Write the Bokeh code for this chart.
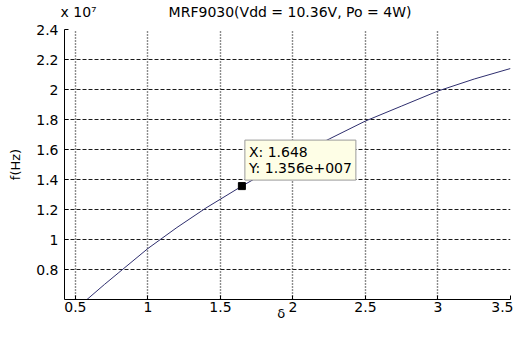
from bokeh.plotting import figure
from bokeh.models import Range1d, FixedTicker, CustomJSTickFormatter, Label, LinearAxis
from bokeh.embed import file_html
from bokeh.resources import INLINE

# data (f in units of 1e7 Hz)
delta = [0.58, 0.7, 0.8, 1.0, 1.2, 1.4, 1.648, 2.0, 2.25, 2.5, 2.75, 3.0, 3.25, 3.5]
f_e7 = [0.60, 0.70, 0.78, 0.94, 1.08, 1.21, 1.356, 1.55, 1.67, 1.79, 1.89, 1.99, 2.07, 2.14]
tip_x = [1.648]
tip_y = [1.356]
x_ticks = [0.5, 1, 1.5, 2, 2.5, 3, 3.5]
y_ticks = [0.8, 1, 1.2, 1.4, 1.6, 1.8, 2, 2.2, 2.4]
title_text = "MRF9030(Vdd = 10.36V, Po = 4W)"
scale_text = "x 10\u2077"
x_label = "\u03b4"
FONT = "DejaVu Sans"

XMIN, XMAX = 0.425, 3.5
YMIN, YMAX = 0.6, 2.4
TITLE_X = 1.98      # horizontal anchor of the title text
SCALE_X = 0.522     # horizontal anchor of the exponent text
XLABEL_X = 1.92     # horizontal anchor of the x label

p = figure(width=513, height=323, output_backend="svg", toolbar_location=None, title=None,
           x_range=Range1d(XMIN, XMAX), y_range=Range1d(YMIN, YMAX),
           min_border_left=64, min_border_right=3, min_border_top=27, min_border_bottom=19)
p.outline_line_color = None
p.background_fill_color = "white"
p.border_fill_color = "white"

fmt = CustomJSTickFormatter(code="return tick.toString();")
for ax, ticks in ((p.xaxis[0], x_ticks), (p.yaxis[0], y_ticks)):
    ax.ticker = FixedTicker(ticks=ticks)
    ax.formatter = fmt
    ax.major_tick_in = 4
    ax.major_tick_out = 0
    ax.minor_tick_line_color = None
    ax.axis_line_color = "black"
    ax.major_tick_line_color = "black"
    ax.major_label_text_font = FONT
    ax.major_label_text_font_size = "14px"
    ax.major_label_text_color = "black"

p.xaxis[0].major_label_standoff = 2
p.yaxis[0].major_label_standoff = 6
p.yaxis[0].axis_label = "f(Hz)"
p.yaxis[0].axis_label_text_font = FONT
p.yaxis[0].axis_label_text_font_size = "13px"
p.yaxis[0].axis_label_text_font_style = "normal"
p.yaxis[0].axis_label_text_color = "black"
p.yaxis[0].axis_label_standoff = 10

# title and exponent as labels of a bare axis above the frame
top_axis = LinearAxis(ticker=FixedTicker(ticks=[SCALE_X, TITLE_X]),
                      major_label_overrides={SCALE_X: scale_text, TITLE_X: title_text},
                      axis_line_color=None, major_tick_line_color=None,
                      minor_tick_line_color=None, major_label_standoff=4,
                      major_label_text_font=FONT, major_label_text_font_size="14px",
                      major_label_text_color="black")
p.add_layout(top_axis, "above")

# x label as a bare axis label at the bottom edge
bot_axis = LinearAxis(ticker=FixedTicker(ticks=[XLABEL_X]),
                      major_label_overrides={XLABEL_X: x_label},
                      axis_line_color=None, major_tick_line_color=None,
                      minor_tick_line_color=None, major_label_standoff=-15,
                      major_label_text_font=FONT, major_label_text_font_size="13px",
                      major_label_text_color="black")
p.add_layout(bot_axis, "below")

p.ygrid.grid_line_color = "#1a1a1a"
p.ygrid.grid_line_dash = "4 2"
p.ygrid.grid_line_width = 1
p.xgrid.ticker = FixedTicker(ticks=x_ticks)
p.xgrid.grid_line_color = "#1a1a1a"
p.xgrid.grid_line_dash = "1 2"
p.xgrid.grid_line_width = 1.4

p.line(delta, f_e7, line_color="#2e2e6e", line_width=1)
p.scatter(tip_x, tip_y, marker="square", size=7, fill_color="black", line_color="black")

tip = Label(x=tip_x[0], y=tip_y[0], x_offset=3, y_offset=6,
            text="X: %.3f\nY: %.3fe+007" % (tip_x[0], tip_y[0]),
            text_font=FONT, text_font_size="14px", text_color="black",
            text_align="left", text_baseline="bottom", text_line_height=1.0,
            background_fill_color="#fefee6", border_line_color="#9a9a9a",
            padding=4)
p.add_layout(tip)

open("out.html", "w").write(file_html(p, INLINE))
